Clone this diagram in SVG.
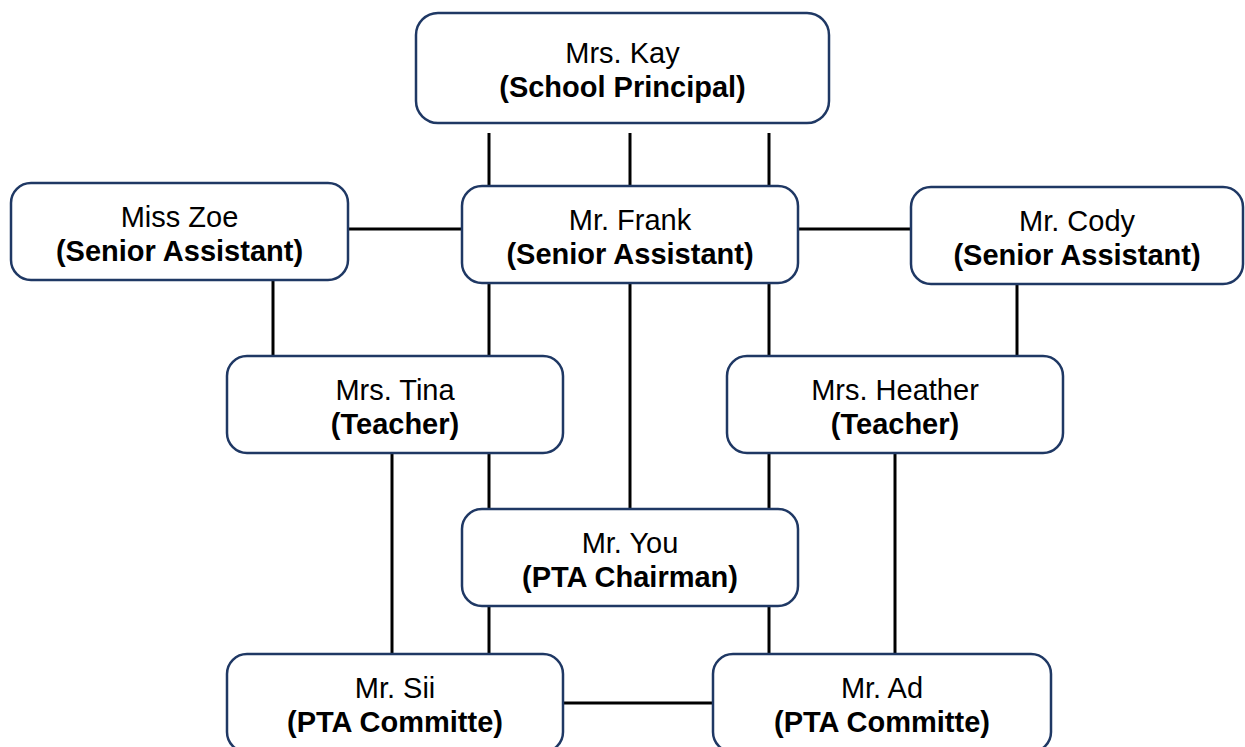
<svg xmlns="http://www.w3.org/2000/svg" width="1245" height="747" viewBox="0 0 1245 747">
<style>
.box{fill:#fff;stroke:#1f3864;stroke-width:2.5}
.t{font-family:"Liberation Sans",Arial,sans-serif;font-size:29px;fill:#000;text-anchor:middle}
.b{font-weight:bold}
.c line{stroke:#000;stroke-width:3}
</style>
<rect width="1245" height="747" fill="#fff"/>
<g class="c" id="connectors">
<line x1="489" y1="133" x2="489" y2="186"/>
<line x1="630" y1="133" x2="630" y2="186"/>
<line x1="769" y1="133" x2="769" y2="186"/>
<line x1="348" y1="229" x2="462" y2="229"/>
<line x1="798" y1="229" x2="911" y2="229"/>
<line x1="273" y1="280" x2="273" y2="356"/>
<line x1="1017" y1="284" x2="1017" y2="356"/>
<line x1="489" y1="283" x2="489" y2="356"/>
<line x1="630" y1="283" x2="630" y2="509"/>
<line x1="769" y1="283" x2="769" y2="356"/>
<line x1="392" y1="453" x2="392" y2="654"/>
<line x1="489" y1="453" x2="489" y2="509"/>
<line x1="769" y1="453" x2="769" y2="509"/>
<line x1="895" y1="453" x2="895" y2="654"/>
<line x1="489" y1="606" x2="489" y2="654"/>
<line x1="769" y1="606" x2="769" y2="654"/>
<line x1="563" y1="703" x2="713" y2="703"/>
</g>
<g id="kay"><rect class="box" x="416" y="13" width="413" height="110" rx="22"/>
<text class="t" x="622.5" y="63">Mrs. Kay</text><text class="t b" x="622.5" y="97">(School Principal)</text></g>
<g id="zoe"><rect class="box" x="11" y="183" width="337" height="97" rx="20"/>
<text class="t" x="179.5" y="227">Miss Zoe</text><text class="t b" x="179.5" y="261">(Senior Assistant)</text></g>
<g id="frank"><rect class="box" x="462" y="186" width="336" height="97" rx="20"/>
<text class="t" x="630" y="230">Mr. Frank</text><text class="t b" x="630" y="264">(Senior Assistant)</text></g>
<g id="cody"><rect class="box" x="911" y="187" width="332" height="97" rx="20"/>
<text class="t" x="1077" y="231">Mr. Cody</text><text class="t b" x="1077" y="265">(Senior Assistant)</text></g>
<g id="tina"><rect class="box" x="227" y="356" width="336" height="97" rx="20"/>
<text class="t" x="395" y="400">Mrs. Tina</text><text class="t b" x="395" y="434">(Teacher)</text></g>
<g id="heather"><rect class="box" x="727" y="356" width="336" height="97" rx="20"/>
<text class="t" x="895" y="400">Mrs. Heather</text><text class="t b" x="895" y="434">(Teacher)</text></g>
<g id="you"><rect class="box" x="462" y="509" width="336" height="97" rx="20"/>
<text class="t" x="630" y="553">Mr. You</text><text class="t b" x="630" y="587">(PTA Chairman)</text></g>
<g id="sii"><rect class="box" x="227" y="654" width="336" height="98" rx="20"/>
<text class="t" x="395" y="698">Mr. Sii</text><text class="t b" x="395" y="732">(PTA Committe)</text></g>
<g id="ad"><rect class="box" x="713" y="654" width="338" height="98" rx="20"/>
<text class="t" x="882" y="698">Mr. Ad</text><text class="t b" x="882" y="732">(PTA Committe)</text></g>
</svg>
